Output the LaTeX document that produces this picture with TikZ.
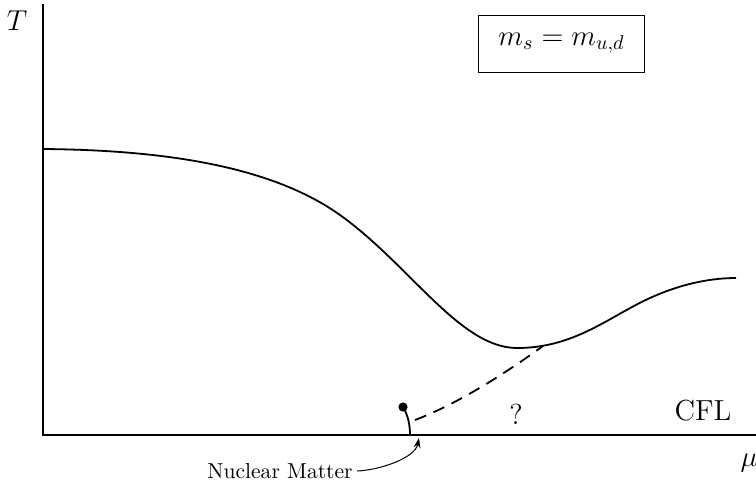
\documentclass[tikz,border=0pt]{standalone}
\usetikzlibrary{arrows.meta}
\begin{document}
\begin{tikzpicture}[x=0.5pt,y=-0.5pt,
  axis/.style={line width=0.7pt},
  curve/.style={line width=0.9pt},
  lbl/.style={inner sep=0pt,font=\fontsize{14.5}{16}\selectfont}]
\useasboundingbox (0,0) rectangle (756,484);
\coordinate (o) at (43,435);
\coordinate (ytop) at (43,4);
\coordinate (xend) at (756,435);
\draw[axis] (ytop) -- (o) -- (xend);
\node[lbl] (T) at (17,21) {$T$};
\node[lbl] (mu) at (749,463) {$\mu$};
\node[lbl] (cfl) at (703,411) {CFL};
\node[lbl] (q) at (516,414) {?};
\node[draw,line width=0.5pt,minimum width=83pt,minimum height=28.5pt,font=\fontsize{14.5}{16}\selectfont] (box) at (561.5,43.5) {$m_s = m_{u,d}$};
\draw[curve] (43,149) .. controls (160,150) and (270,165) .. (340,215)
  .. controls (410,265) and (460,348) .. (517,348)
  .. controls (575,348) and (610,316) .. (650,298)
  .. controls (685,282) and (715,278) .. (736,278);
\draw[curve,dash pattern=on 6pt off 4pt] (415,420) .. controls (460,403) and (510,370) .. (543,346);
\node[circle,fill,inner sep=0pt,minimum size=4.6pt] (cp) at (403,407) {};
\coordinate (nm) at (410,435);
\draw[curve] (cp.center) .. controls (408,415) and (410,425) .. (nm);
\node[inner sep=0pt,font=\fontsize{10.8}{12}\selectfont] (nuc) at (280,471) {Nuclear Matter};
\coordinate (tip) at (419,438);
\draw[line width=0.5pt,-{Stealth[length=5pt,width=3.5pt]}] ([xshift=2pt]nuc.east) .. controls (380,470) and (415,458) .. (tip);
\end{tikzpicture}
\end{document}
